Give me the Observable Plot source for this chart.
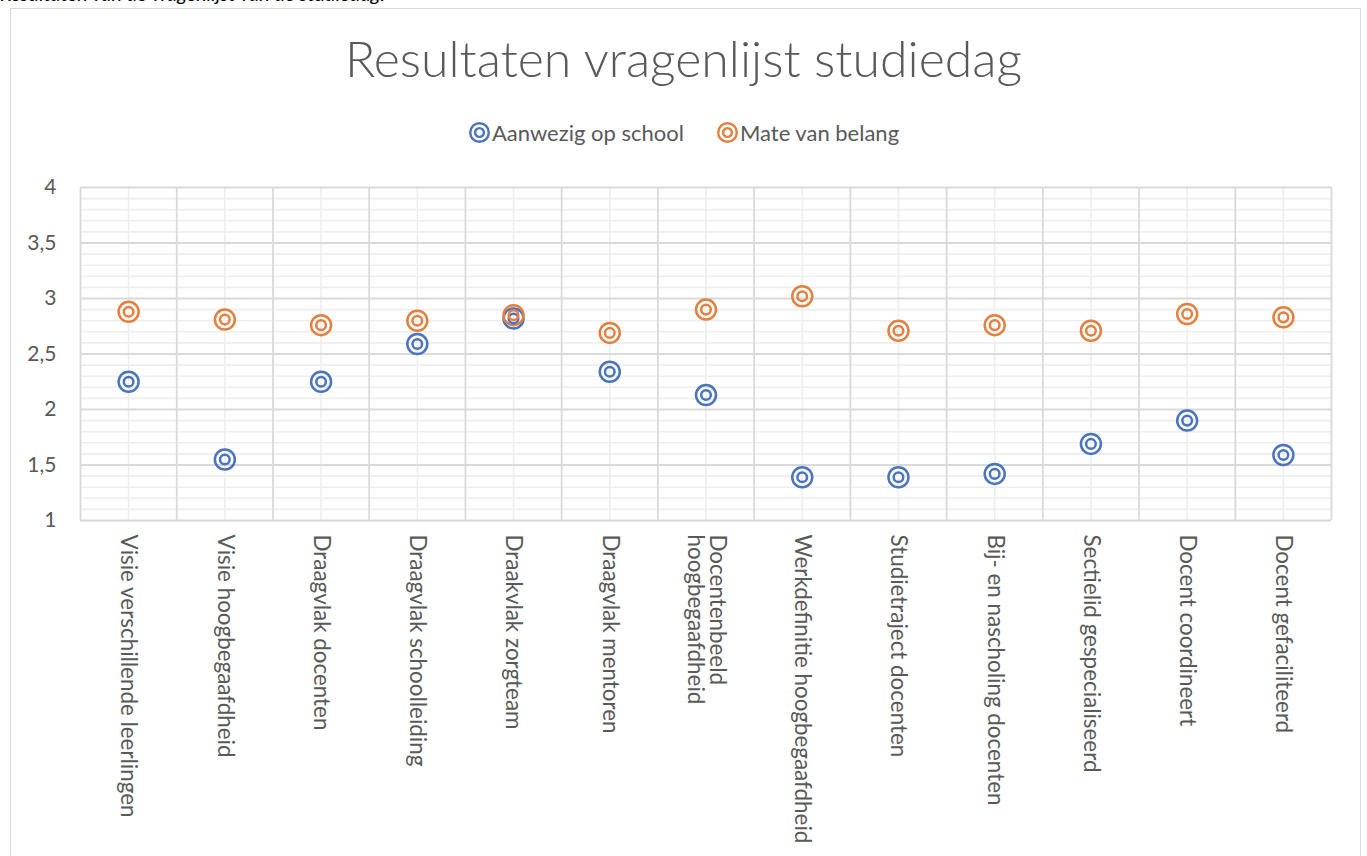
<!DOCTYPE html>
<html>
<head>
<meta charset="utf-8">
<script src="https://cdn.jsdelivr.net/npm/d3@7"></script>
<script src="https://cdn.jsdelivr.net/npm/@observablehq/plot@0.6"></script>
<style>
  html, body { margin: 0; padding: 0; background: #fff; }
  body { width: 1367px; height: 856px; position: relative; overflow: hidden; font-family: Lato, "Open Sans", sans-serif; }
  #note { position: absolute; left: 0; top: -19px; font-size: 20px; font-style: italic; color: #000; white-space: nowrap; }
  #frame { position: absolute; left: 10px; top: 8px; width: 1351px; height: 900px; border: 1.5px solid #d9d9d9; box-sizing: border-box; }
  #title { position: absolute; left: 0; width: 1367px; top: 28px; text-align: center; font-size: 50px; font-weight: 300; color: #595959; }
  #legend { position: absolute; left: 0; width: 1367px; top: 119px; text-align: center; font-size: 22px; color: #595959; }
  #legend span.item { display: inline-flex; align-items: center; margin: 0 16px; }
  #legend svg { margin-right: 1px; }
  #chart { position: absolute; left: 0; top: 0; }
</style>
</head>
<body>
<div id="note">Resultaten van de vragenlijst van de studiedag.</div>
<div id="frame"></div>
<div id="title">Resultaten vragenlijst studiedag</div>
<div id="legend"></div>
<div id="chart"></div>
<script>
const categories = [
  "Visie verschillende leerlingen",
  "Visie hoogbegaafdheid",
  "Draagvlak docenten",
  "Draagvlak schoolleiding",
  "Draakvlak zorgteam",
  "Draagvlak mentoren",
  "Docentenbeeld\nhoogbegaafdheid",
  "Werkdefinitie hoogbegaafdheid",
  "Studietraject docenten",
  "Bij- en nascholing docenten",
  "Sectielid gespecialiseerd",
  "Docent coordineert",
  "Docent gefaciliteerd"
];
const aanwezig = [2.25, 1.55, 2.25, 2.59, 2.82, 2.34, 2.13, 1.39, 1.39, 1.42, 1.69, 1.90, 1.59];
const belang   = [2.88, 2.81, 2.76, 2.80, 2.85, 2.69, 2.90, 3.02, 2.71, 2.76, 2.71, 2.86, 2.83];
const seriesNames = ["Aanwezig op school", "Mate van belang"];
const seriesColors = ["#4a74c0", "#e3803f"];
const yTicks = [1, 1.5, 2, 2.5, 3, 3.5, 4];

const data = [];
categories.forEach((c, i) => {
  data.push({series: seriesNames[0], idx: i + 0.5, value: aanwezig[i]});
  data.push({series: seriesNames[1], idx: i + 0.5, value: belang[i]});
});

const centers = categories.map((c, i) => i + 0.5);
const bounds = d3.range(0, categories.length + 1);
const minor = d3.range(10, 41).map(d => d / 10).filter(d => !yTicks.includes(d));

const legend = document.getElementById("legend");
seriesNames.forEach((s, k) => {
  const span = document.createElement("span");
  span.className = "item";
  span.innerHTML = `<svg width="23" height="23" viewBox="-11.5 -11.5 23 23"><circle r="9.3" fill="none" stroke="${seriesColors[k]}" stroke-width="2.4"/><circle r="4.4" fill="none" stroke="${seriesColors[k]}" stroke-width="2.4"/></svg>${s}`;
  legend.appendChild(span);
});

const chart = Plot.plot({
  width: 1367,
  height: 856,
  marginLeft: 80,
  marginRight: 36,
  marginTop: 187,
  marginBottom: 336,
  style: {fontFamily: "Lato, 'Open Sans', sans-serif", fontSize: "22px", color: "#595959", background: "transparent"},
  x: {type: "linear", domain: [0, categories.length], label: null},
  y: {domain: [1, 4], label: null},
  color: {domain: seriesNames, range: seriesColors},
  marks: [
    Plot.ruleY(minor, {stroke: "#eeeeee", strokeWidth: 1.6}),
    Plot.ruleX(centers, {stroke: "#eeeeee", strokeWidth: 1.6}),
    Plot.ruleY(yTicks, {stroke: "#d9d9d9", strokeWidth: 1.8}),
    Plot.ruleX(bounds, {stroke: "#d9d9d9", strokeWidth: 1.8}),
    Plot.axisY(yTicks, {tickSize: 0, tickPadding: 24, label: null, tickFormat: d => String(d).replace(".", ","), fontSize: 21}),
    Plot.axisX(centers, {
      tickSize: 0, tickPadding: 14, tickRotate: 90, label: null,
      textAnchor: "start", lineAnchor: "middle", fontSize: 22.4,
      tickFormat: d => categories[Math.floor(d)]
    }),
    Plot.dot(data, {x: "idx", y: "value", stroke: "series", r: 10, strokeWidth: 2.5, fill: "none"}),
    Plot.dot(data, {x: "idx", y: "value", stroke: "series", r: 4.8, strokeWidth: 2.5, fill: "none"})
  ]
});
document.getElementById("chart").appendChild(chart);
</script>
</body>
</html>
